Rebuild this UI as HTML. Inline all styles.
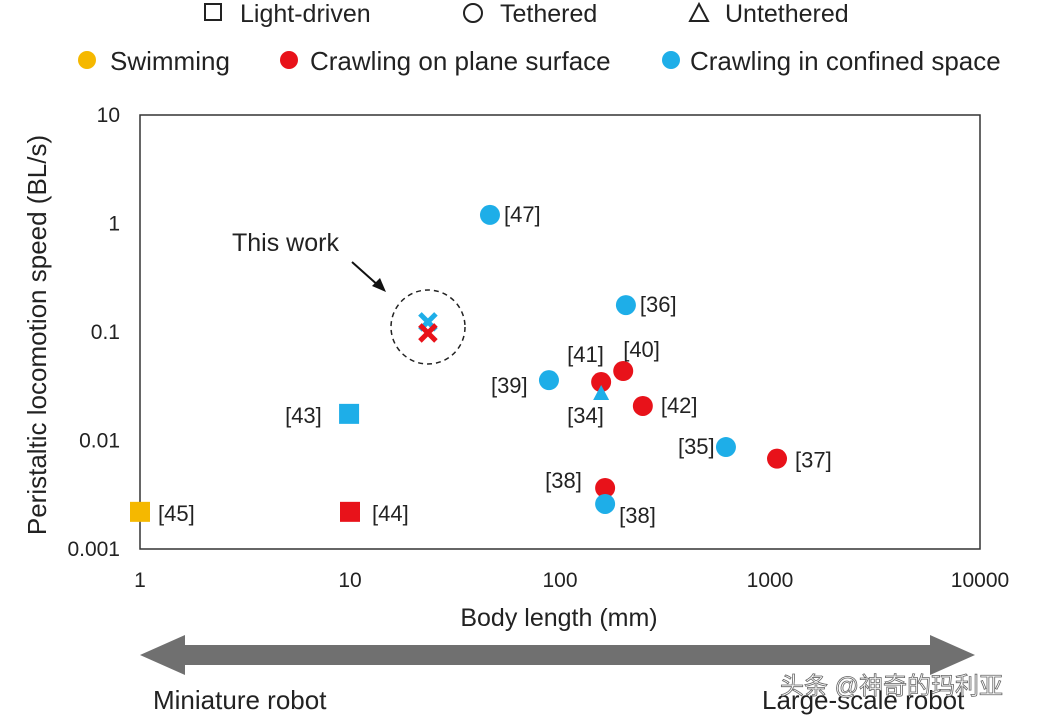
<!DOCTYPE html>
<html><head><meta charset="utf-8"><style>
body{margin:0;background:#fff;width:1048px;height:720px;overflow:hidden;font-family:"Liberation Sans","Noto Sans CJK SC",sans-serif}
svg text{font-family:"Liberation Sans","Noto Sans CJK SC",sans-serif;fill:#222}
</style></head><body>
<svg id="c" width="1048" height="720">
<g>
<rect x="205" y="4" width="16" height="16" fill="none" stroke="#222" stroke-width="2"/>
<text x="240" y="22" font-size="25">Light-driven</text>
<circle cx="473" cy="13" r="9" fill="none" stroke="#222" stroke-width="2"/>
<text x="500" y="22" font-size="25">Tethered</text>
<polygon points="699,4 708,21 690,21" fill="none" stroke="#222" stroke-width="2"/>
<text x="725" y="22" font-size="25">Untethered</text>
<circle cx="87" cy="60" r="9" fill="#f5b800"/>
<text x="110" y="70" font-size="26">Swimming</text>
<circle cx="289" cy="60" r="9" fill="#e8121a"/>
<text x="310" y="70" font-size="26">Crawling on plane surface</text>
<circle cx="671" cy="60" r="9" fill="#1eaee8"/>
<text x="690" y="70" font-size="26">Crawling in confined space</text>
</g>
<rect x="140" y="115" width="840" height="434" fill="none" stroke="#333" stroke-width="1.5"/>
<g id="xt"></g><g id="yt"></g>
<text x="559" y="626" font-size="25" text-anchor="middle">Body  length (mm)</text>
<text transform="translate(46,335) rotate(-90)" font-size="26" text-anchor="middle">Peristaltic locomotion speed (BL/s)</text>
<circle cx="428" cy="327" r="37" fill="none" stroke="#222" stroke-width="1.5" stroke-dasharray="5,4"/>
<text x="232" y="251" font-size="25">This work</text>
<line x1="352" y1="262" x2="380" y2="287" stroke="#111" stroke-width="2"/>
<polygon points="386,292 372,286 380,278" fill="#111"/>
<g id="pts"></g>
<polygon points="140,655 185,635 185,645 930,645 930,635 975,655 930,675 930,665 185,665 185,675" fill="#707070"/>
<text x="153" y="709" font-size="26">Miniature robot</text>
<text x="762" y="709" font-size="26">Large-scale robot</text>
<text x="780" y="694" font-size="24" style="fill:#fff;stroke:#666;stroke-width:0.8">头条 @神奇的玛利亚</text>
</svg>
<script>
const xTicks=[1,10,100,1000,10000];
const yTicks=[10,1,0.1,0.01,0.001];
const yTickLabels=["10","1","0.1","0.01","0.001"];
const ptLength=[46.4,206,200,157,88.6,157,248,9.9,617,1080,164,164,1.0,10];
const ptSpeed=[1.2,0.177,0.0437,0.0346,0.036,0.0268,0.0208,0.0176,0.0087,0.0068,0.00365,0.0026,0.0022,0.0022];
const ptType=["circle","circle","circle","circle","circle","triangle","circle","square","circle","circle","circle","circle","square","square"];
const ptColor=["c","c","r","r","c","c","r","c","c","r","r","c","y","r"];
const ptLabel=["[47]","[36]","[40]","[41]","[39]","[34]","[42]","[43]","[35]","[37]","[38]","[38]","[45]","[44]"];
const ptLabelDx=[14,14,0,-34,-58,-34,18,-64,-48,18,-60,14,18,22];
const ptLabelDy=[7,7,-14,-20,13,29,7,9,7,9,0,19,9,9];
const workLength=[23.5,23.5];
const workSpeed=[0.124,0.098];
const workColor=["c","r"];
const COL={c:"#1eaee8",r:"#e8121a",y:"#f5b800"};
const X=v=>140+210*Math.log10(v);
const Y=v=>115+108.5*(1-Math.log10(v));
const NS="http://www.w3.org/2000/svg";
function mk(t,a,p){const e=document.createElementNS(NS,t);for(const k in a)e.setAttribute(k,a[k]);p.appendChild(e);return e;}
const xt=document.getElementById('xt'),yt=document.getElementById('yt'),pts=document.getElementById('pts');
xTicks.forEach(v=>{const t=mk('text',{x:X(v),y:587,'font-size':21,'text-anchor':'middle'},xt);t.textContent=v;

});
yTicks.forEach((v,i)=>{const t=mk('text',{x:120,y:Y(v)+7,'font-size':21,'text-anchor':'end'},yt);t.textContent=yTickLabels[i];

});
workLength.forEach((l,i)=>{const x=X(l),y=Y(workSpeed[i]);const g=mk('g',{stroke:COL[workColor[i]],'stroke-width':5},pts);
mk('line',{x1:x-8,y1:y-8,x2:x+8,y2:y+8},g);mk('line',{x1:x-8,y1:y+8,x2:x+8,y2:y-8},g);

});
ptLength.forEach((l,i)=>{const x=X(l),y=Y(ptSpeed[i]),f=COL[ptColor[i]];let e;
if(ptType[i]==='circle')e=mk('circle',{cx:x,cy:y,r:10,fill:f},pts);
else if(ptType[i]==='square')e=mk('rect',{x:x-10,y:y-10,width:20,height:20,fill:f},pts);
else e=mk('polygon',{points:`${x},${y-9} ${x+8},${y+6} ${x-8},${y+6}`,fill:f},pts);


const t=mk('text',{x:x+ptLabelDx[i],y:y+ptLabelDy[i],'font-size':22},pts);t.textContent=ptLabel[i];

});
</script>
</body></html>
